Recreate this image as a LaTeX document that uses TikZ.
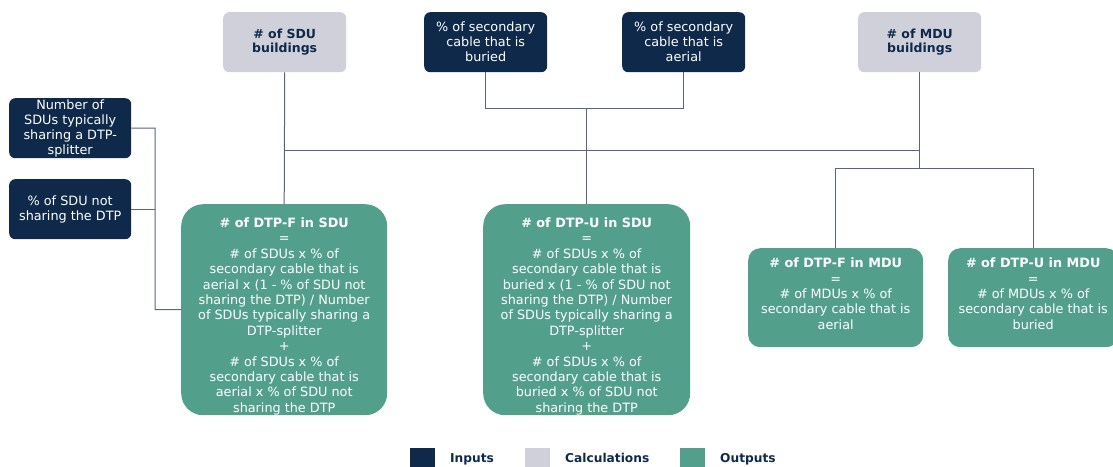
\documentclass[tikz,border=0pt]{standalone}
\usepackage{fontspec}
\setmainfont{DejaVu Sans}
\definecolor{navy}{HTML}{0E2949}
\definecolor{calcg}{HTML}{D0D0DA}
\definecolor{outg}{HTML}{52A08B}
\definecolor{linec}{HTML}{56667F}
\newcommand{\pushdown}[1]{\rule{0pt}{#1}}
\begin{document}
\begin{tikzpicture}[x=1pt,y=-1pt,
  base/.style={anchor=north west, align=center, inner sep=0pt, font=\fontsize{12.8}{15}\selectfont},
  inbox/.style={base, rounded corners=6pt, fill=navy, text=white, minimum width=122pt, minimum height=60pt},
  calcbox/.style={base, rounded corners=6pt, fill=calcg, text=navy, font=\fontsize{12.5}{14}\selectfont\bfseries, minimum width=123pt, minimum height=60pt},
  outbox/.style={base, rounded corners=22pt, fill=outg, text=white, font=\fontsize{12.8}{15.4}\selectfont},
  conn/.style={draw=linec, line width=1pt},
  legsq/.style={anchor=north west, minimum width=25pt, minimum height=19pt, inner sep=0pt},
  legtx/.style={anchor=base west, inner sep=0pt, text=navy, font=\fontsize{12.2}{15}\selectfont\bfseries}
]
\useasboundingbox (0,0) rectangle (1113,466);

% inputs
\node[inbox] (in1) at (9,98) {Number of\\SDUs typically\\sharing a DTP-\\splitter};
\node[inbox] (in2) at (9,179) {\% of SDU not\\sharing the DTP};
\node[inbox, minimum width=123pt] (bur) at (424,12) {\% of secondary\\cable that is\\buried};
\node[inbox, minimum width=123pt] (aer) at (622,12) {\% of secondary\\cable that is\\aerial};

% calculations
\node[calcbox] (sdu) at (223,12) {\# of SDU\\buildings};
\node[calcbox] (mdu) at (858,12) {\# of MDU\\buildings};

% outputs
\node[outbox, minimum width=206pt, minimum height=211pt] (fsdu) at (181,204) {\pushdown{23pt}\textbf{\# of DTP-F in SDU}\\=\\\# of SDUs x \% of\\secondary cable that is\\aerial x (1 - \% of SDU not\\sharing the DTP) / Number\\of SDUs typically sharing a\\DTP-splitter\\+\\\# of SDUs x \% of\\secondary cable that is\\aerial x \% of SDU not\\sharing the DTP};
\node[outbox, minimum width=207pt, minimum height=211pt] (usdu) at (483,204) {\pushdown{23pt}\textbf{\# of DTP-U in SDU}\\=\\\# of SDUs x \% of\\secondary cable that is\\buried x (1 - \% of SDU not\\sharing the DTP) / Number\\of SDUs typically sharing a\\DTP-splitter\\+\\\# of SDUs x \% of\\secondary cable that is\\buried x \% of SDU not\\sharing the DTP};
\node[outbox, rounded corners=12pt, minimum width=175pt, minimum height=99pt] (fmdu) at (748,248) {\textbf{\# of DTP-F in MDU}\\=\\\# of MDUs x \% of\\secondary cable that is\\aerial\rule[-8pt]{0pt}{1pt}};
\node[outbox, rounded corners=12pt, minimum width=170pt, minimum height=99pt] (umdu) at (948,248) {\textbf{\# of DTP-U in MDU}\\=\\\# of MDUs x \% of\\secondary cable that is\\buried\rule[-8pt]{0pt}{1pt}};

% junction coordinates
\coordinate (jL) at (155,309.5);
\coordinate (bus) at (0,150);
\coordinate (cab) at (0,108);
\coordinate (mbus) at (0,168);

% connectors
\draw[conn] (in1.east) -| (jL) -- (fsdu.west);
\draw[conn] (in2.east) -- (in2.east -| jL);
\draw[conn] (sdu.south) -- (fsdu.north);
\draw[conn] (sdu.south |- bus) -- (mdu.south |- bus);
\draw[conn] (bur.south) -- (bur.south |- cab) -- (aer.south |- cab) -- (aer.south);
\draw[conn] (usdu.north |- cab) -- (usdu.north);
\draw[conn] (mdu.south) -- (mdu.south |- mbus);
\draw[conn] (fmdu.north) -- (fmdu.north |- mbus) -- (umdu.north |- mbus) -- (umdu.north);

% legend
\node[legsq, fill=navy] (l1) at (410,448) {};
\node[legtx] (t1) at (450,462) {Inputs};
\node[legsq, fill=calcg] (l2) at (525,448) {};
\node[legtx] (t2) at (565,462) {Calculations};
\node[legsq, fill=outg] (l3) at (680,448) {};
\node[legtx] (t3) at (720,462) {Outputs};
\end{tikzpicture}
\end{document}
